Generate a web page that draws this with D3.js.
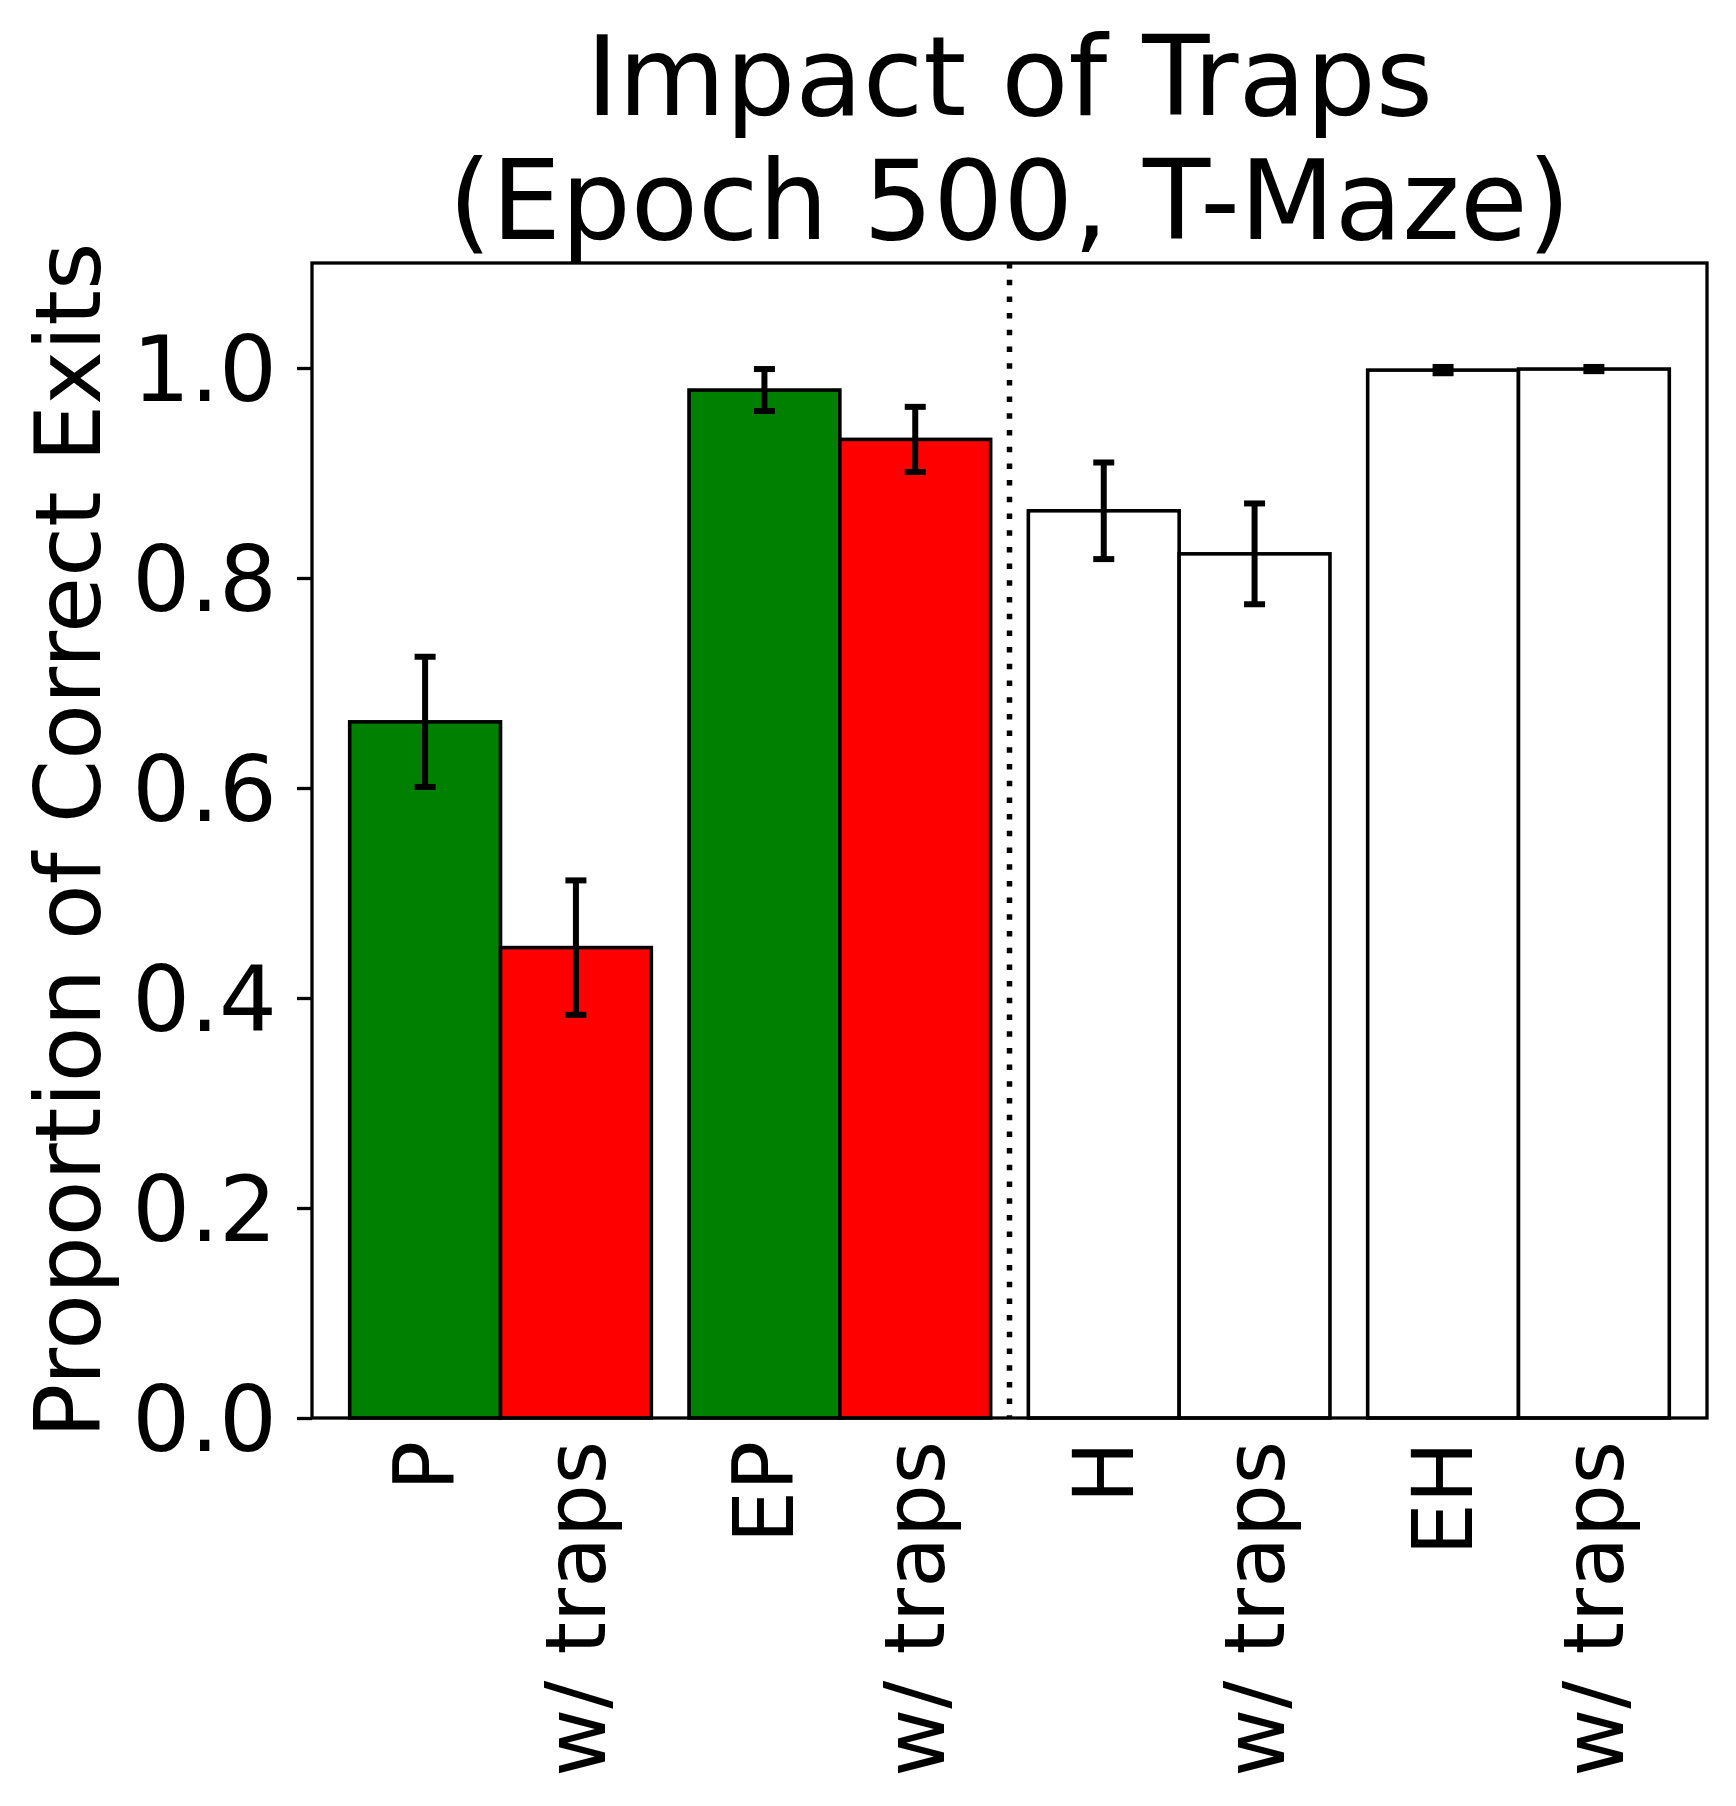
<!DOCTYPE html>
<html>
<head>
<meta charset="utf-8">
<script src="https://cdn.jsdelivr.net/npm/d3@7"></script>
<style>
  body { margin: 0; background: #fff; }
  svg { display: block; font-family: "DejaVu Sans", sans-serif; }
</style>
</head>
<body>
<div id="chart"></div>
<script>
// values
const groups = ["P", "EP", "H", "EH"];
const labels = ["P", "w/ traps", "EP", "w/ traps", "H", "w/ traps", "EH", "w/ traps"];
const values = [0.663, 0.448, 0.979, 0.932, 0.864, 0.823, 0.998, 0.999];
const errors = [0.062, 0.064, 0.020, 0.031, 0.046, 0.048, 0.003, 0.002];
const fills = ["green", "red", "green", "red", "white", "white", "white", "white"];
const yTicks = [0.0, 0.2, 0.4, 0.6, 0.8, 1.0];

const width = 1736, height = 1806;
const margin = { top: 263, right: 29, bottom: 388, left: 312 };
const barW = 0.4, groupStep = 0.9;

const data = labels.map((l, i) => ({
    label: l,
    pos: Math.floor(i / 2) * groupStep + (i % 2) * barW,
    value: values[i],
    err: errors[i],
    fill: fills[i]
}));

const svg = d3.select("#chart").append("svg")
    .attr("width", width)
    .attr("height", height);

const x = d3.scaleLinear()
    .domain([-0.3, 3.4])
    .range([margin.left, width - margin.right]);
const y = d3.scaleLinear()
    .domain([0, 1.1])
    .range([height - margin.bottom, margin.top]);

// bars
svg.append("g").selectAll("rect")
    .data(data)
    .enter().append("rect")
    .attr("x", d => x(d.pos - barW / 2))
    .attr("width", x(barW) - x(0))
    .attr("y", d => y(d.value))
    .attr("height", d => y(0) - y(d.value))
    .attr("fill", d => d.fill)
    .attr("stroke", "#000")
    .attr("stroke-width", 3.6);

// divider between the P and H families
const divX = ((1 * groupStep + barW + barW / 2) + (2 * groupStep - barW / 2)) / 2;
svg.append("line")
    .attr("x1", x(divX)).attr("x2", x(divX))
    .attr("y1", y(1.1)).attr("y2", y(0))
    .attr("stroke", "#000")
    .attr("stroke-width", 5.5)
    .attr("stroke-dasharray", "5.5,11.2");

// error bars
const eb = svg.append("g").selectAll("g")
    .data(data)
    .enter().append("g");
eb.append("line")
    .attr("x1", d => x(d.pos)).attr("x2", d => x(d.pos))
    .attr("y1", d => y(d.value - d.err)).attr("y2", d => y(d.value + d.err))
    .attr("stroke", "#000").attr("stroke-width", 6);
[-1, 1].forEach(s => {
    eb.append("line")
        .attr("x1", d => x(d.pos) - 10.5).attr("x2", d => x(d.pos) + 10.5)
        .attr("y1", d => y(d.value + s * d.err)).attr("y2", d => y(d.value + s * d.err))
        .attr("stroke", "#000").attr("stroke-width", 6);
});

// frame
svg.append("rect")
    .attr("x", x.range()[0]).attr("y", y.range()[1])
    .attr("width", x.range()[1] - x.range()[0])
    .attr("height", y.range()[0] - y.range()[1])
    .attr("fill", "none")
    .attr("stroke", "#000")
    .attr("stroke-width", 3.3);

// y axis
const yAxis = svg.append("g")
    .attr("transform", "translate(" + margin.left + ",0)")
    .call(d3.axisLeft(y).tickValues(yTicks).tickFormat(d3.format(".1f"))
        .tickSize(15).tickPadding(20).tickSizeOuter(0));
yAxis.select(".domain").remove();
yAxis.selectAll("line").attr("stroke-width", 3.3);
yAxis.selectAll("text")
    .attr("font-size", 91)
    .attr("font-family", "DejaVu Sans")
    .attr("fill", "#000")
    .attr("dy", "0.36em");

// x tick labels, rotated
svg.append("g").selectAll("text")
    .data(data)
    .enter().append("text")
    .attr("transform", d => "translate(" + x(d.pos) + "," + (y(0) + 23) + ") rotate(-90)")
    .attr("text-anchor", "end")
    .attr("dy", "0.35em")
    .attr("font-size", 83)
    .attr("fill", "#000")
    .text(d => d.label);

// y label
svg.append("text")
    .attr("transform", "translate(100," + (margin.top + (y(0) - margin.top) / 2) + ") rotate(-90)")
    .attr("text-anchor", "middle")
    .attr("font-size", 91)
    .attr("fill", "#000")
    .text("Proportion of Correct Exits");

// title
const cx = (x.range()[0] + x.range()[1]) / 2;
const title = svg.append("text")
    .attr("text-anchor", "middle")
    .attr("font-size", 110)
    .attr("fill", "#000");
title.append("tspan").attr("x", cx).attr("y", 115).text("Impact of Traps");
title.append("tspan").attr("x", cx).attr("y", 239).text("(Epoch 500, T-Maze)");
</script>
</body>
</html>
